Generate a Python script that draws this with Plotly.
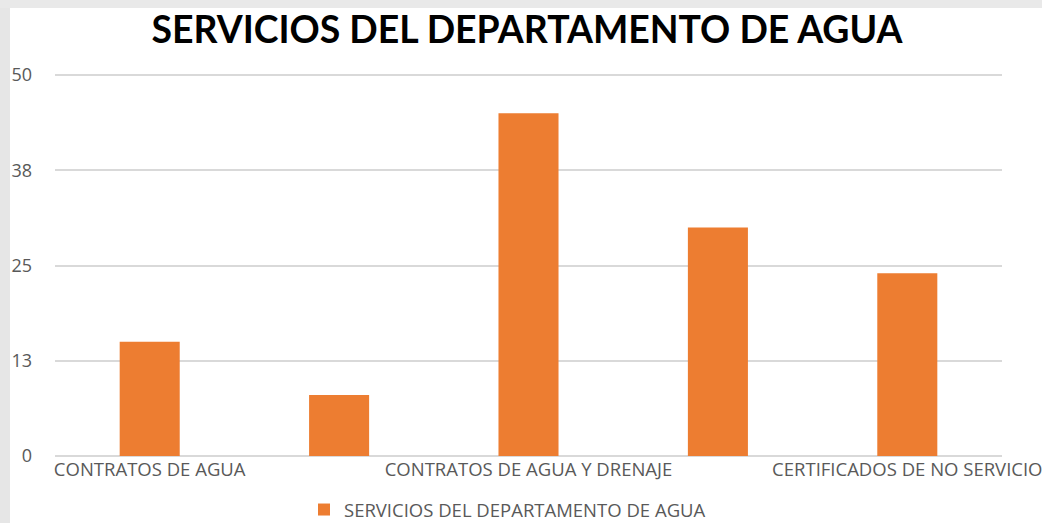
import plotly.graph_objects as go

categories = ["CONTRATOS DE AGUA", "", "CONTRATOS DE AGUA Y DRENAJE", "", "CERTIFICADOS DE NO SERVICIO"]
values = [15, 8, 45, 30, 24]
series_name = "SERVICIOS DEL DEPARTAMENTO DE AGUA"
title_text = "SERVICIOS DEL DEPARTAMENTO DE AGUA"
y_tickvals = [0, 12.5, 25, 37.5, 50]
y_ticktext = ["0", "13", "25", "38", "50"]

x_idx = list(range(len(categories)))
shown = [i for i, c in enumerate(categories) if c]

W, H = 1042, 523
ml, mr, mt, mb = 55, 40, 74, 67
pw, ph = W - ml - mr, H - mt - mb

def px_x(p):
    return (p - ml) / pw

def px_y(p):
    return (H - mb - p) / ph

fig = go.Figure()
fig.add_trace(go.Bar(
    x=x_idx, y=values, name=series_name,
    marker=dict(color="#ED7D31", line=dict(width=0)),
    width=0.317, showlegend=True,
))

fig.update_layout(
    width=W, height=H, autosize=False,
    margin=dict(l=ml, r=mr, t=mt, b=mb, autoexpand=False),
    paper_bgcolor="white", plot_bgcolor="white",
    title=dict(text="<b>" + title_text + "</b>", x=527 / W, xanchor="center",
               y=1 - 30 / H, yanchor="middle",
               font=dict(family="Lato, Open Sans, sans-serif", size=37.4, color="#000000")),
    xaxis=dict(range=[-0.5, 4.5], tickmode="array", tickvals=[x_idx[i] for i in shown],
               ticktext=[categories[i] for i in shown], showgrid=False, zeroline=False,
               showline=False, ticks="", ticklabeloverflow="allow",
               tickfont=dict(family="Open Sans, sans-serif", size=18.5, color="#595959")),
    yaxis=dict(range=[0, 50.15], tickmode="array", tickvals=y_tickvals, ticktext=y_ticktext,
               showgrid=True, gridcolor="#d9d9d9", gridwidth=2, zeroline=True,
               zerolinecolor="#d9d9d9", zerolinewidth=2,
               showline=False, ticks="", ticklabelstandoff=22,
               tickfont=dict(family="Open Sans, sans-serif", size=18, color="#595959")),
    legend=dict(orientation="h", x=px_x(304), xanchor="left", y=px_y(510), yanchor="middle",
                font=dict(family="Open Sans, sans-serif", size=18.5, color="#595959"),
                bgcolor="rgba(0,0,0,0)"),
    bargap=0.68,
    shapes=[
        dict(type="rect", xref="paper", yref="paper", x0=px_x(0), x1=px_x(10),
             y0=px_y(H), y1=px_y(0), fillcolor="#e6e6e6", line=dict(width=0), layer="below"),
        dict(type="rect", xref="paper", yref="paper", x0=px_x(0), x1=px_x(W),
             y0=px_y(8), y1=px_y(0), fillcolor="#e9e9e9", line=dict(width=0), layer="below"),
    ],
)

fig.write_html("out.html", config={"displayModeBar": False},
               post_script="document.body.style.margin='0';document.body.style.overflow='hidden';")
